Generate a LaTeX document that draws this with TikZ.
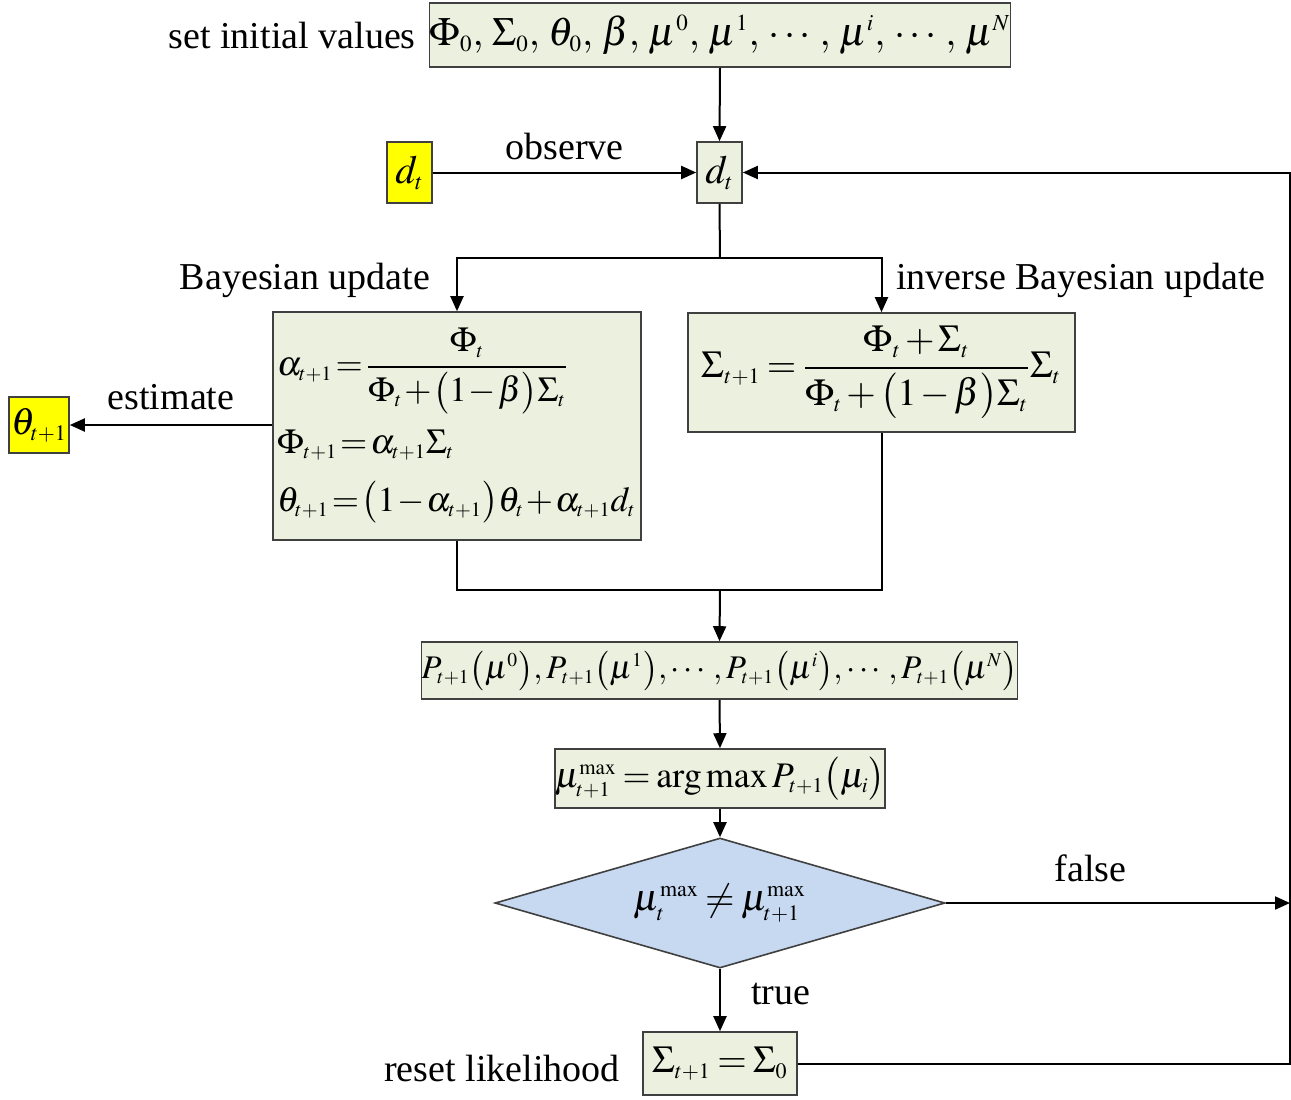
\documentclass[tikz,border=0pt]{standalone}
\usepackage{amsmath}
\usepackage{mathptmx}
\usepackage[no-math]{fontspec}
\setmainfont{Liberation Serif}
\DeclareMathSizes{19}{19}{11}{8}
\DeclareMathSizes{18}{18}{10.5}{8}
\DeclareMathSizes{17.5}{17.5}{10.2}{8}
\DeclareMathSizes{16.5}{16.5}{9.8}{8}
\DeclareMathSizes{20}{20}{11.5}{8}
\usetikzlibrary{arrows.meta,shapes.geometric}
\definecolor{boxgreen}{HTML}{EBF1DE}
\definecolor{boxyellow}{HTML}{FFFF00}
\definecolor{diablue}{HTML}{C6D9F1}
\definecolor{edgegray}{HTML}{404040}
\newcommand{\tightmath}{\thickmuskip=3mu plus 2mu\medmuskip=2mu plus 1mu\relax}
\newcommand{\tightermath}{\thickmuskip=1.5mu\medmuskip=1mu\relax}
\tikzset{
  x=0.5pt, y=-0.5pt,
  box/.style={draw=edgegray, line width=0.8pt, fill=boxgreen, inner sep=0pt, font=\fontsize{19}{23}\selectfont\tightmath},
  ybox/.style={box, fill=boxyellow},
  dia/.style={draw=edgegray, line width=0.8pt, fill=diablue, shape=diamond, inner sep=0pt, font=\fontsize{19}{23}\selectfont\tightmath},
  lbl/.style={font=\fontsize{19}{23}\selectfont, inner sep=0pt},
  conn/.style={line width=1pt, black},
  arr/.style={conn, -{Triangle[length=7.5pt,width=6.5pt]}},
}
\begin{document}
\begin{tikzpicture}
\useasboundingbox (0,0) rectangle (1291,1099);
% nodes
\node[box, minimum width=290pt, minimum height=32pt, font=\fontsize{20}{24}\selectfont\tightmath] (init) at (720,35)
  {$\Phi_0,\mskip2mu \Sigma_0,\mskip2mu \theta_0,\mskip2mu \beta,\mskip2mu \mu^0,\mskip2mu \mu^1,\mskip2mu \cdots,\mskip2mu \mu^i,\mskip2mu \cdots,\mskip2mu \mu^N$};
\node[lbl, anchor=east] (initlbl) at (416,35) {set initial values};
\node[ybox, minimum width=22.5pt, minimum height=30.5pt, font=\fontsize{20}{24}\selectfont] (dty) at (409.5,172.5) {$d_t$};
\node[box, minimum width=22.5pt, minimum height=30.5pt, font=\fontsize{20}{24}\selectfont] (dtg) at (719.5,172.5) {$d_t$};
\node[box, minimum width=184pt, minimum height=114pt, text width=180pt, align=left, font=\fontsize{17.5}{21}\selectfont\tightermath] (bay) at (457,426)
  {\mbox{$\alpha_{t+1}=\dfrac{\Phi_t}{\Phi_t+\bigl(1-\beta\bigr)\Sigma_t}$}\\[7pt]
   \mbox{$\Phi_{t+1}=\alpha_{t+1}\Sigma_t$}\\[8pt]
   \mbox{$\theta_{t+1}=\bigl(1-\alpha_{t+1}\bigr)\theta_t+\alpha_{t+1}d_t$}};
\node[box, minimum width=193.5pt, minimum height=59.5pt] (inv) at (881.5,372.5)
  {$\Sigma_{t+1}=\dfrac{\Phi_t+\Sigma_t}{\Phi_t+\bigl(1-\beta\bigr)\Sigma_t}\Sigma_t$};
\node[ybox, minimum width=30pt, minimum height=28pt] (theta) at (39,425) {$\theta_{t+1}$};
\node[box, minimum width=286.5pt, minimum height=28.5pt, font=\fontsize{16.5}{20}\selectfont\tightermath] (P) at (719.5,670.5)
  {$P_{t+1}\bigl(\mu^0\bigr), P_{t+1}\bigl(\mu^1\bigr), \cdots, P_{t+1}\bigl(\mu^i\bigr), \cdots, P_{t+1}\bigl(\mu^N\bigr)$};
\node[box, minimum width=162pt, minimum height=29.5pt, font=\fontsize{18}{22}\selectfont\tightmath] (mumax) at (720,778.5)
  {$\mu^{\max}_{t+1}=\arg\max P_{t+1}\bigl(\mu_i\bigr)$};
\node[dia, minimum width=225pt, minimum height=65pt, aspect=3.46] (cond) at (720,903)
  {$\mu^{\max}_{t}\neq\mu^{\max}_{t+1}$};
\node[box, minimum width=77pt, minimum height=31.5pt] (reset) at (720,1063.5)
  {$\Sigma_{t+1}=\Sigma_0$};
\node[lbl, anchor=east] (resetlbl) at (620,1068) {reset likelihood};
\node[lbl] (baylbl) at (305,280) {Bayesian update};
\node[lbl, anchor=west] (invlbl) at (896,280) {inverse Bayesian update};
% coordinates
\coordinate (split) at (720,258);
\coordinate (merge) at (720,590);
\coordinate (fend) at (1290,903);
\coordinate (rc1) at (1289.5,1063.5);
\coordinate (rc2) at (1289.5,172.5);
% connectors
\draw[arr] (init.south) -- (dtg.north);
\draw[arr] (dty.east) -- node[lbl, above=6pt] {observe} (dtg.west);
\draw[conn] (dtg.south) -- (split);
\draw[arr] (split) -| (bay.north);
\draw[arr] (split) -| (inv.north);
\draw[arr] (bay.west |- theta.east) -- node[lbl, above=7pt] {estimate} (theta.east);
\draw[conn] (bay.south) |- (merge);
\draw[conn] (inv.south) |- (merge);
\draw[arr] (merge) -- (P.north);
\draw[arr] (P.south) -- (mumax.north);
\draw[arr] (mumax.south) -- (cond.north);
\draw[arr] (cond.east) -- node[lbl, above=10pt, pos=0.42] {false} (fend);
\draw[arr] (cond.south) -- node[lbl, right=15pt, pos=0.4] {true} (reset.north);
\draw[arr] (reset.east) -- (rc1) -- (rc2) -- (dtg.east);
\end{tikzpicture}
\end{document}
